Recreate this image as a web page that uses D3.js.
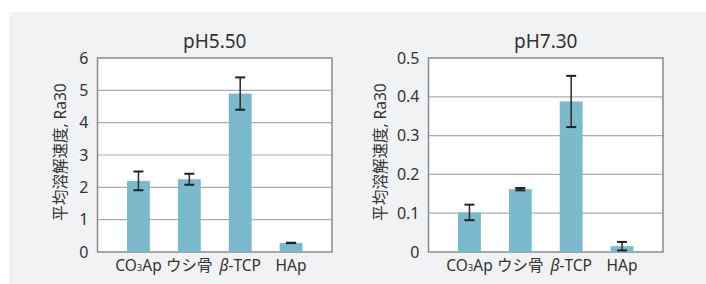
<!DOCTYPE html>
<html>
<head>
<meta charset="utf-8">
<script src="https://cdn.jsdelivr.net/npm/d3@7"></script>
<style>
  body { margin: 0; background: #fff; }
  text { font-family: "Noto Sans", "Noto Sans CJK JP", sans-serif; fill: #333; }
</style>
</head>
<body>
<div id="chart"></div>
<script>
// data
var categories = ["CO3Ap", "ウシ骨", "β-TCP", "HAp"];
var titles = ["pH5.50", "pH7.30"];
var ph550 = [2.20, 2.25, 4.90, 0.28];
var ph550err = [0.29, 0.17, 0.50, 0.006];
var ph730 = [0.102, 0.162, 0.388, 0.015];
var ph730err = [0.020, 0.003, 0.066, 0.011];
var yMax = [6, 0.5];
var yTicks = [[0, 1, 2, 3, 4, 5, 6], [0, 0.1, 0.2, 0.3, 0.4, 0.5]];

var width = 706, height = 284;
var barColor = '#7bbacc';

var svg = d3.select('#chart').append('svg')
  .attr('width', width)
  .attr('height', height);

svg.append('rect')
  .attr('x', 9).attr('y', 12)
  .attr('width', width - 9).attr('height', height - 12)
  .attr('fill', '#f1f2f4');

function drawPanel(left, i, values, errs, labelX) {
  var top = 58, bottom = 252, right = left + 234.5;
  var y = d3.scaleLinear().domain([0, yMax[i]]).range([bottom, top]);
  var x = d3.scaleBand().domain(categories)
    .range([left + 15.5, right - 15.5])
    .paddingInner(0.55).paddingOuter(0.275);

  var g = svg.append('g');

  g.append('rect')
    .attr('x', left).attr('y', top)
    .attr('width', right - left).attr('height', bottom - top)
    .attr('fill', '#fff');

  // grid
  g.selectAll('.grid').data(yTicks[i].slice(1, -1))
    .enter().append('line')
    .attr('x1', left).attr('x2', right)
    .attr('y1', function(d) { return y(d); })
    .attr('y2', function(d) { return y(d); })
    .attr('stroke', '#adadad')
    .attr('stroke-width', 1.2);

  // frame
  g.append('rect')
    .attr('x', left).attr('y', top)
    .attr('width', right - left).attr('height', bottom - top)
    .attr('fill', 'none')
    .attr('stroke', '#8a8a8a')
    .attr('stroke-width', 1.5);

  var yAxis = d3.axisLeft(y).tickValues(yTicks[i]).tickSize(0).tickPadding(9)
    .tickFormat(function(d) { return d; });
  var ax = g.append('g').attr('transform', 'translate(' + left + ',0)').call(yAxis);
  ax.select('.domain').remove();
  ax.selectAll('text').style('font-size', '16px').attr('fill', '#333')
    .style('font-family', '"Noto Sans", sans-serif');

  // bars
  g.selectAll('.bar').data(values)
    .enter().append('rect')
    .attr('x', function(d, k) { return x(categories[k]); })
    .attr('y', function(d) { return y(d); })
    .attr('width', x.bandwidth())
    .attr('height', function(d) { return bottom - y(d); })
    .attr('fill', barColor);

  // error bars
  var eb = g.selectAll('.err').data(values)
    .enter().append('g')
    .attr('transform', function(d, k) {
      return 'translate(' + (x(categories[k]) + x.bandwidth() / 2) + ',0)';
    });
  eb.append('line')
    .attr('x1', 0).attr('x2', 0)
    .attr('y1', function(d, k) { return y(d + errs[k]); })
    .attr('y2', function(d, k) { return y(d - errs[k]); })
    .attr('stroke', '#333').attr('stroke-width', 1.6);
  [1, -1].forEach(function(s) {
    eb.append('line')
      .attr('x1', -5).attr('x2', 5)
      .attr('y1', function(d, k) { return y(d + s * errs[k]); })
      .attr('y2', function(d, k) { return y(d + s * errs[k]); })
      .attr('stroke', '#222').attr('stroke-width', 2);
  });

  // x labels
  var xl = g.selectAll('.xl').data(categories)
    .enter().append('text')
    .attr('x', function(d) { return x(d) + x.bandwidth() / 2; })
    .attr('y', 271)
    .attr('text-anchor', 'middle')
    .style('font-size', '15.5px');
  xl.each(function(d) {
    var t = d3.select(this);
    if (d === 'CO3Ap') {
      t.append('tspan').text('CO');
      t.append('tspan').text('3').style('font-size', '9.5px');
      t.append('tspan').text('Ap');
    } else if (d === 'β-TCP') {
      t.append('tspan').text('β').style('font-style', 'italic');
      t.append('tspan').text('-TCP');
    } else {
      t.text(d);
    }
  });

  // title
  g.append('text')
    .attr('x', (left + right) / 2).attr('y', 47.5)
    .attr('text-anchor', 'middle')
    .style('font-size', '19px')
    .text(titles[i]);

  // y label
  g.append('text')
    .attr('transform', 'translate(' + labelX + ',' + ((top + bottom) / 2 - 3) + ') rotate(-90)')
    .attr('text-anchor', 'middle')
    .attr('dy', '0.35em')
    .style('font-size', '15.5px')
    .text('平均溶解速度, Ra30');
}

drawPanel(97.5, 0, ph550, ph550err, 60.5);
drawPanel(428.5, 1, ph730, ph730err, 381);
</script>
</body>
</html>
